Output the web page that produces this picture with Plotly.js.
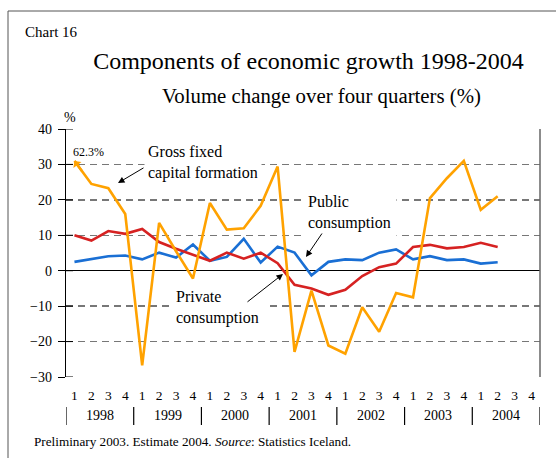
<!DOCTYPE html>
<html>
<head>
<meta charset="utf-8">
<script src="https://cdn.plot.ly/plotly-3.0.1.min.js"></script>
<style>
  body { margin: 0; background: #fff; }
  #chart { width: 556px; height: 458px; }
</style>
</head>
<body>
<div id="chart"></div>
<script>
// data, quarters 1998Q1 .. 2004Q2
var kwartal = ["1", "2", "3", "4"];
var tahun = ["1998", "1999", "2000", "2001", "2002", "2003", "2004"];
var tickY = [-30, -20, -10, 0, 10, 20, 30, 40];

// first value is 62.3%, drawn cut off at the top with an arrow
var labelAtas = "62.3%";
var investasi = [31, 24.5, 23.3, 16.0, -26.7, 13.5, 5.5, -2.2, 19.1, 11.6,
  12.0, 18.3, 29.4, -22.9, -5.6, -21.1, -23.4, -10.3, -17.2, -6.3,
  -7.5, 20.5, 26.1, 31.0, 17.2, 21.0];
var konsumsiSwasta = [10.0, 8.5, 11.2, 10.4, 11.8, 8.1, 6.2, 4.6, 2.8, 5.1,
  3.4, 5.1, 2.1, -4.0, -5.0, -6.8, -5.4, -1.5, 1.0, 2.0,
  6.7, 7.3, 6.3, 6.7, 7.9, 6.7];
var konsumsiPublik = [2.5, 3.2, 4.1, 4.3, 3.2, 5.1, 3.7, 7.4, 2.8, 3.9,
  9.0, 2.3, 6.8, 5.1, -1.3, 2.5, 3.2, 3.0, 5.1, 6.0,
  3.2, 4.1, 3.0, 3.2, 2.0, 2.4];

var nKuartal = tahun.length * 4;
var sumbuX = investasi.map(function (v, i) { return i; });
var tickVals = [];
var tickTeks = [];
for (var i = 0; i < nKuartal; i++) {
  tickVals.push(i);
  tickTeks.push(kwartal[i % 4]);
}

// plot area in pixels: left 66, right 540, top 129, bottom 377
function px(x) { return (x - 66) / 474; }
function py(y) { return (377 - y) / 248; }

var serif = "'Liberation Serif', 'Times New Roman', serif";

function garis(y, warna, nama) {
  return {
    x: sumbuX,
    y: y,
    type: "scatter",
    mode: "lines",
    name: nama,
    line: { color: warna, width: 2.6 },
    hoverinfo: "none",
    showlegend: false
  };
}

var traces = [
  garis(konsumsiPublik, "#1a6fd4", "Public consumption"),
  garis(konsumsiSwasta, "#d62222", "Private consumption"),
  garis(investasi, "#ffa200", "Gross fixed capital formation")
];

function teks(t, x, y, size, extra) {
  var a = { text: t, xref: "paper", yref: "paper", x: px(x), y: py(y),
    xanchor: "left", yanchor: "middle", showarrow: false,
    font: { family: serif, size: size, color: "#000" } };
  for (var key in extra) a[key] = extra[key];
  return a;
}

var annotations = [
  teks("Chart 16", 23, 32, 15),
  teks("Volume change over four quarters (%)", 321.5, 96, 20.8, { xanchor: "center" }),
  teks("%", 70, 117, 14, { xanchor: "center" }),
  teks(labelAtas, 88, 152, 12, { xanchor: "center" }),
  teks("Gross fixed<br>capital formation", 144, 162, 16, { align: "left", bgcolor: "#fff", borderpad: 3 }),
  teks("Public<br>consumption", 302, 212, 16, { align: "left", bgcolor: "#fff", borderpad: 5 }),
  teks("Private<br>consumption", 169, 307, 16, { align: "left", bgcolor: "#fff", borderpad: 6 }),
  teks("Preliminary 2003. Estimate 2004. <i>Source</i>: Statistics Iceland.", 32, 441, 13.2),
  // pointer arrows
  { text: "", xref: "paper", yref: "paper", x: px(118), y: py(183), ax: 27, ay: -16,
    showarrow: true, arrowhead: 2, arrowsize: 1.3, arrowwidth: 1, arrowcolor: "#000" },
  { text: "", xref: "paper", yref: "paper", x: px(306), y: py(257), ax: 17, ay: -25,
    showarrow: true, arrowhead: 2, arrowsize: 1.3, arrowwidth: 1, arrowcolor: "#000" },
  { text: "", xref: "paper", yref: "paper", x: px(283), y: py(274), ax: -37, ay: 29,
    showarrow: true, arrowhead: 2, arrowsize: 1.3, arrowwidth: 1, arrowcolor: "#000" },
  // arrowhead on the cut-off first value
  { text: "", xref: "x", yref: "y", x: 0, y: investasi[0], axref: "x", ayref: "y",
    ax: 0.5, ay: (investasi[0] + investasi[1]) / 2,
    showarrow: true, arrowhead: 1, arrowsize: 0.7, arrowwidth: 2.4, arrowcolor: "#ffa200" }
];

var shapes = [
  // outer frame
  { type: "rect", xref: "paper", yref: "paper", x0: px(8), x1: px(600), y0: py(11), y1: py(520),
    line: { color: "#555", width: 1 }, fillcolor: "rgba(0,0,0,0)" },
  // right border of the plot
  { type: "line", xref: "paper", yref: "paper", x0: 1, x1: 1, y0: 0, y1: 1,
    line: { color: "#666", width: 1.5 } }
];

// inner half of the cross ticks on the y axis
tickY.forEach(function (v) {
  shapes.push({ type: "line", xref: "paper", yref: "y", x0: 0, x1: px(73), y0: v, y1: v,
    line: { color: "#000", width: 1 } });
});

tahun.forEach(function (t, k) {
  annotations.push({ text: t, xref: "x", yref: "paper", x: k * 4 + 1.5, y: py(415),
    xanchor: "center", yanchor: "middle", showarrow: false, font: { family: serif, size: 14, color: "#000" } });
});
for (var k = 0; k <= tahun.length; k++) {
  shapes.push({ type: "line", xref: "x", yref: "paper", x0: k * 4 - 0.5, x1: k * 4 - 0.5,
    y0: py(407), y1: py(425), line: { color: "#000", width: 1.2 } });
}

var layout = {
  width: 556,
  height: 458,
  margin: { l: 66, r: 16, t: 129, b: 81 },
  paper_bgcolor: "#fff",
  plot_bgcolor: "#fff",
  font: { family: serif, color: "#000" },
  title: {
    text: "Components of economic growth 1998-2004",
    font: { family: serif, size: 24, color: "#000" },
    x: 308.5 / 556, xanchor: "center", y: 1 - 61 / 458, yanchor: "middle"
  },
  xaxis: {
    range: [-0.5, nKuartal - 0.5],
    tickvals: tickVals,
    ticktext: tickTeks,
    ticks: "",
    showgrid: false,
    zeroline: false,
    showline: false,
    ticklabelstandoff: 8,
    tickfont: { family: serif, size: 13.5, color: "#000" },
    fixedrange: true
  },
  yaxis: {
    range: [-30, 40],
    tickvals: tickY,
    ticks: "outside",
    ticklen: 7,
    tickwidth: 1,
    tickcolor: "#000",
    showline: true,
    linecolor: "#000",
    linewidth: 1.2,
    showgrid: true,
    gridcolor: "#777",
    gridwidth: 1.3,
    griddash: "7px,5px",
    zeroline: true,
    zerolinecolor: "#000",
    zerolinewidth: 1.2,
    ticklabelstandoff: 3,
    tickfont: { family: serif, size: 14, color: "#000" },
    fixedrange: true
  },
  showlegend: false,
  annotations: annotations,
  shapes: shapes
};

Plotly.newPlot("chart", traces, layout, { displayModeBar: false, staticPlot: true });
</script>
</body>
</html>
